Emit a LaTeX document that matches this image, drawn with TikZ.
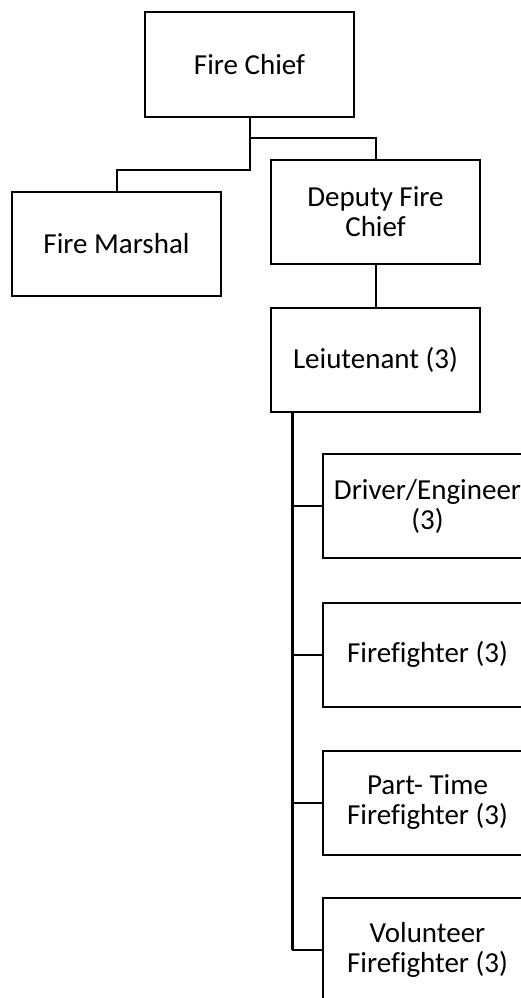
\documentclass[tikz,border=0pt]{standalone}
\usepackage{fontspec}
\setmainfont[Ligatures=NoCommon]{Carlito}
\begin{document}
\begin{tikzpicture}[x=1pt,y=-1pt,
  box/.style={draw, rectangle, line width=2pt, minimum width=209pt, minimum height=104pt,
    inner sep=0pt, align=center, font=\fontsize{29}{30}\selectfont},
  link/.style={line width=2pt},
  trunk/.style={line width=3pt}]
\clip[use as bounding box] (0,0) rectangle (521,998);
\fill[white] (0,0) rectangle (521,998);
\node[box] (chief) at (249.5,64.5) {Fire Chief};
\node[box] (marshal) at (116.5,244) {Fire Marshal};
\node[box] (deputy) at (375.5,211.5) {Deputy Fire\\Chief};
\node[box] (lieut) at (375.5,359.5) {Leiutenant (3)};
\node[box] (driver) at (427.5,506) {Driver/Engineer\\(3)};
\node[box] (ff) at (427.5,654.5) {Firefighter (3)};
\node[box] (pt) at (427.5,802.5) {Part- Time\\Firefighter (3)};
\node[box] (vol) at (427.5,950) {Volunteer\\Firefighter (3)};
\draw[link] (chief.south) -- (chief.south |- 0,170) -| (marshal.north);
\draw[link] (chief.south |- 0,138) -| (deputy.north);
\draw[link] (deputy.south) -- (lieut.north);
\draw[trunk] (lieut.south -| 292,0) -- (vol.west -| 292,0);
\draw[link] (driver.west -| 292,0) -- (driver.west);
\draw[link] (ff.west -| 292,0) -- (ff.west);
\draw[link] (pt.west -| 292,0) -- (pt.west);
\draw[link] (vol.west -| 292,0) -- (vol.west);
\end{tikzpicture}
\end{document}
